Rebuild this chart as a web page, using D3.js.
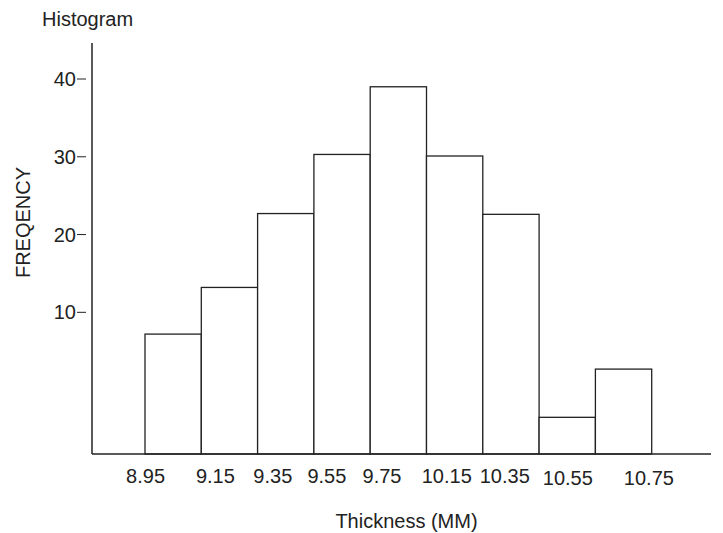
<!DOCTYPE html>
<html>
<head>
<meta charset="utf-8">
<script src="https://cdn.jsdelivr.net/npm/d3@7"></script>
<style>
  body { margin: 0; background: #fff; }
  text { font-family: "Liberation Sans", Arial, sans-serif; fill: #222; }
</style>
</head>
<body>
<svg id="chart" width="723" height="533"></svg>
<script>
// bins, left to right
var bins = ['8.95', '9.15', '9.35', '9.55', '9.75', '10.15', '10.35', '10.55', '10.75'];
// heights read against the printed frequency ticks (the baseline sits below 0 in the original)
var freq = [7.2, 13.2, 22.7, 30.3, 39.0, 30.1, 22.6, -3.5, 2.7];
// where each x label sits, in bin units (the original labels are not evenly placed)
var xTickPos = [0.01, 1.25, 2.27, 3.23, 4.21, 5.36, 6.39, 7.51, 8.95];
var yTicks = [10, 20, 30, 40];

var svg = d3.select('#chart');

// note: "top" is taken by window.top, so plot edges get their own names
var plotLeft = 92, plotRight = 711, plotTop = 43, plotBottom = 454;

var x = d3.scaleLinear().domain([0, bins.length]).range([145, 651.7]);
var y = d3.scaleLinear().domain([0, 40]).range([390.1, 79]);
var yBase = y.invert(plotBottom);

// bars
svg.selectAll('rect.bar')
	.data(freq)
	.enter().append('rect')
	.attr('class', 'bar')
	.attr('x', function(d, i){ return x(i); })
	.attr('width', x(1) - x(0))
	.attr('y', function(d){ return y(d); })
	.attr('height', function(d){ return y(yBase) - y(d); })
	.attr('fill', '#fff')
	.attr('stroke', '#222')
	.attr('stroke-width', 1.3);

// axes lines
svg.append('line')
	.attr('x1', plotLeft).attr('x2', plotLeft)
	.attr('y1', plotTop).attr('y2', plotBottom)
	.attr('stroke', '#222').attr('stroke-width', 1.5);

svg.append('line')
	.attr('x1', plotLeft).attr('x2', plotRight)
	.attr('y1', plotBottom).attr('y2', plotBottom)
	.attr('stroke', '#222').attr('stroke-width', 1.5);

// y ticks: short dash left of the axis, not touching it
var yt = svg.selectAll('g.ytick')
	.data(yTicks)
	.enter().append('g')
	.attr('class', 'ytick')
	.attr('transform', function(d){ return 'translate(0,' + y(d) + ')'; });

yt.append('line')
	.attr('x1', 77).attr('x2', 86)
	.attr('stroke', '#222').attr('stroke-width', 1);

yt.append('text')
	.attr('x', 76)
	.attr('dy', '0.35em')
	.attr('text-anchor', 'end')
	.style('font-size', '20px')
	.text(function(d){ return d; });

// x labels
svg.selectAll('text.xlab')
	.data(bins)
	.enter().append('text')
	.attr('class', 'xlab')
	.attr('x', function(d, i){ return x(xTickPos[i]); })
	.attr('y', function(d, i){ return i >= 7 ? 484.5 : 482.7; })
	.attr('text-anchor', 'middle')
	.style('font-size', '20px')
	.text(function(d){ return d; });

// titles
svg.append('text')
	.attr('x', 42).attr('y', 26)
	.style('font-size', '20px')
	.text('Histogram');

svg.append('text')
	.attr('x', 406.5).attr('y', 527.5)
	.attr('text-anchor', 'middle')
	.style('font-size', '20px')
	.text('Thickness (MM)');

svg.append('text')
	.attr('transform', 'translate(30,222.5) rotate(-90)')
	.attr('text-anchor', 'middle')
	.style('font-size', '20px')
	.text('FREQENCY');
</script>
</body>
</html>
